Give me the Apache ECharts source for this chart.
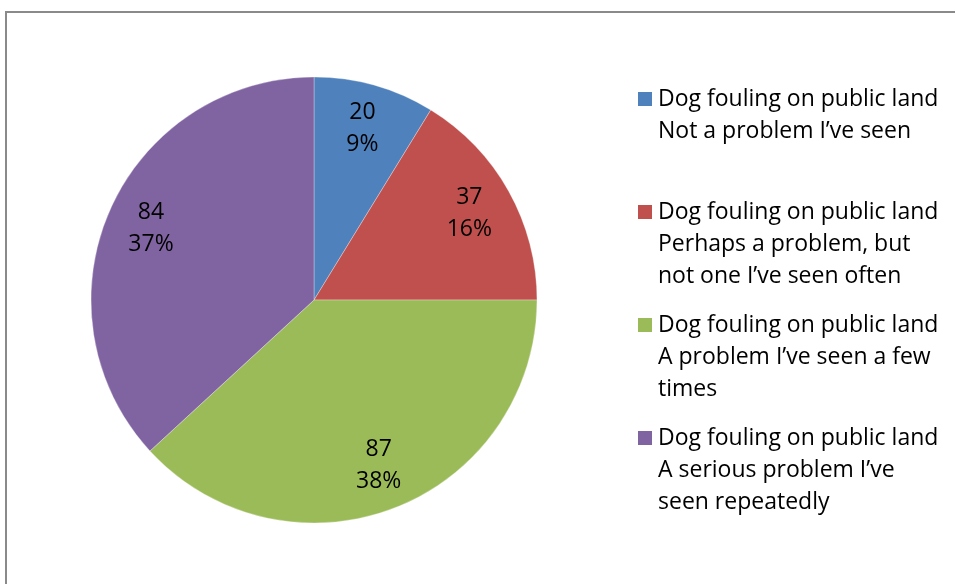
<!DOCTYPE html>
<html>
<head>
<meta charset="utf-8">
<script src="https://cdn.jsdelivr.net/npm/echarts@6/dist/echarts.min.js"></script>
<style>
html,body{margin:0;padding:0;background:#fff;}
#chart{width:955px;height:584px;}
</style>
</head>
<body>
<div id="chart"></div>
<script>
const categories = [
  "Dog fouling on public land\nNot a problem I\u2019ve seen",
  "Dog fouling on public land\nPerhaps a problem, but\nnot one I\u2019ve seen often",
  "Dog fouling on public land\nA problem I\u2019ve seen a few\ntimes",
  "Dog fouling on public land\nA serious problem I\u2019ve\nseen repeatedly"
];
const values = [20, 37, 87, 84];
const colors = ["#4F81BD", "#C0504D", "#9BBB59", "#8064A2"];

const FONT = "'Open Sans', 'DejaVu Sans', sans-serif";
const LH = 32;
const legendFirstLineY = [99, 212, 325, 438];

const pieData = categories.map((c, i) => ({ name: c, value: values[i], itemStyle: { color: colors[i] } }));

const legends = categories.map((c, i) => ({
  orient: "vertical",
  left: 632,
  top: legendFirstLineY[i] - LH / 2,
  padding: 0,
  itemWidth: 0,
  itemHeight: 14,
  icon: "rect",
  selectedMode: false,
  itemStyle: { opacity: 0 },
  data: [c],
  formatter: name => name.split("\n").map((line, k) =>
    (k === 0 ? "{m|}{g|}" : "{s|}") + "{t|" + line + "}").join("\n"),
  textStyle: {
    fontFamily: FONT, fontSize: 23, lineHeight: LH, color: "#000",
    rich: {
      m: { width: 14, height: 14, backgroundColor: colors[i], lineHeight: LH },
      g: { width: 6, lineHeight: LH },
      s: { width: 20, lineHeight: LH },
      t: { fontFamily: FONT, fontSize: 23, lineHeight: LH, color: "#000" }
    }
  }
}));

const chart = echarts.init(document.getElementById("chart"), null, { renderer: "canvas" });
chart.setOption({
  backgroundColor: "#fff",
  animation: false,
  graphic: [{
    type: "rect",
    shape: { x: 6, y: 12, width: 1200, height: 1000 },
    style: { fill: "none", stroke: "#8a8a8a", lineWidth: 2 },
    silent: true,
    z: -10
  }],
  legend: legends,
  series: [
    {
      type: "pie",
      center: [314, 300],
      radius: [0, 223],
      startAngle: 90,
      clockwise: true,
      silent: true,
      label: { show: false },
      labelLine: { show: false },
      itemStyle: { borderColor: "rgba(255,255,255,0.3)", borderWidth: 1 },
      data: pieData
    },
    {
      type: "pie",
      center: [314, 300],
      radius: [127, 223],
      startAngle: 90,
      clockwise: true,
      silent: true,
      legendHoverLink: false,
      itemStyle: { color: "rgba(0,0,0,0)", borderWidth: 0 },
      label: {
        show: true,
        position: "inside",
        fontFamily: FONT,
        fontSize: 23,
        lineHeight: LH,
        color: "#000",
        formatter: p => p.value + "\n" + Math.round(p.percent) + "%"
      },
      labelLine: { show: false },
      data: categories.map((c, i) => ({ name: c, value: values[i] }))
    }
  ]
});
</script>
</body>
</html>
